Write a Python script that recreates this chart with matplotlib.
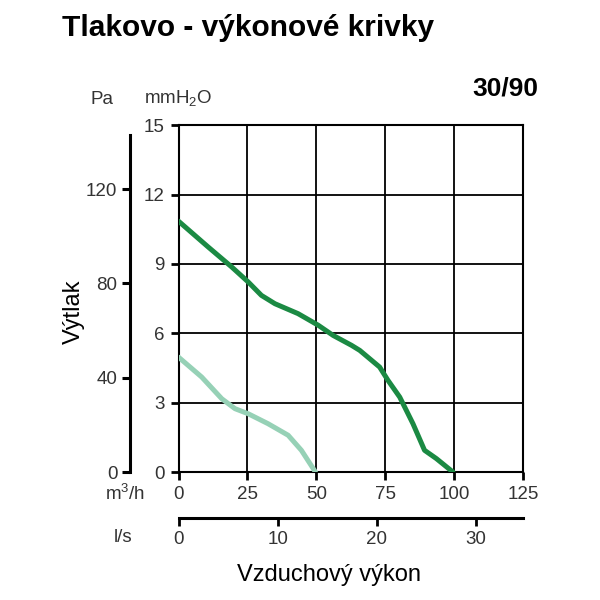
import matplotlib.pyplot as plt
import numpy as np

plt.rcParams['font.family'] = ['Liberation Sans', 'DejaVu Sans']

# pressure curves: airflow (m3/h) vs pressure (mmH2O)
flow_high = [0, 10.8, 19.3, 25.3, 30.1, 35, 43.4, 50.7, 56.1, 62.8, 65.8,
             73, 76, 80.3, 85.1, 89.3, 93.6, 99.6]
press_high = [10.85, 9.73, 8.87, 8.22, 7.64, 7.28, 6.85, 6.35, 5.91, 5.48, 5.26,
              4.54, 3.97, 3.24, 2.09, 0.94, 0.58, 0.0]
flow_low = [0, 8.4, 15.7, 20.5, 25.3, 32.5, 39.8, 44.6, 49.7]
press_low = [4.97, 4.11, 3.17, 2.74, 2.52, 2.09, 1.59, 0.94, 0.0]

x_ticks = [0, 25, 50, 75, 100, 125]
y_ticks = [0, 3, 6, 9, 12, 15]
pa_ticks = [0, 40, 80, 120]
ls_ticks = [0, 10, 20, 30]

dark = '#1b8a43'
light = '#96d1b6'
txt = '#333333'
fs = 13.5

fig = plt.figure(figsize=(6, 6), dpi=100)
ax = fig.add_axes([0.2975, 0.2133, 0.574, 0.578])

ax.plot(flow_low, press_low, color=light, lw=3.6, solid_capstyle='round',
        solid_joinstyle='round', zorder=3)
ax.plot(flow_high, press_high, color=dark, lw=3.6, solid_capstyle='round',
        solid_joinstyle='round', zorder=3)

ax.set_xlim(0, 125)
ax.set_ylim(0, 15)
ax.set_xticks(x_ticks)
ax.set_yticks(y_ticks)
ax.grid(True, color='black', lw=1.3)
for s in ax.spines.values():
    s.set_linewidth(1.5)
ax.tick_params(direction='out', length=6, width=2, labelsize=fs,
               labelcolor=txt, pad=4)

# Pa axis on the left
pa = ax.twinx()
pa.yaxis.set_ticks_position('left')
pa.yaxis.set_label_position('left')
pa.spines['left'].set_position(('outward', 35))
pa.spines['left'].set_linewidth(2.2)
for k in ['right', 'top', 'bottom']:
    pa.spines[k].set_visible(False)
pa.set_ylim(0, 15 * 9.80665)
pa.spines['left'].set_bounds(0, 143)
pa.set_yticks(pa_ticks)
pa.tick_params(direction='out', length=6, width=2.2, labelsize=fs,
               labelcolor=txt, pad=3)

# l/s axis below
ls = ax.secondary_xaxis(-0.1326, functions=(lambda v: v / 3.6, lambda v: v * 3.6))
ls.set_xticks(ls_ticks)
ls.spines['bottom'].set_linewidth(2.2)
ls.tick_params(direction='out', length=6, width=2, labelsize=fs,
               labelcolor=txt, pad=3)

fig.text(0.103, 0.953, 'Tlakovo - výkonové krivky', fontsize=21.5,
         fontweight='bold', va='center', ha='left', color='black')
fig.text(0.898, 0.853, '30/90', fontsize=19, fontweight='bold',
         ha='right', va='center', color='black')
fig.text(0.17, 0.835, 'Pa', fontsize=fs, ha='center', va='center', color=txt)
fig.text(0.297, 0.835, r'mmH$_\mathregular{2}$O', fontsize=fs, ha='center',
         va='center', color=txt)
fig.text(0.208, 0.178, r'm$^\mathregular{3}$/h', fontsize=fs, ha='center',
         va='center', color=txt)
fig.text(0.205, 0.105, 'l/s', fontsize=fs, ha='center', va='center', color=txt)
fig.text(0.123, 0.48, 'Výtlak', fontsize=17, rotation=90, ha='center',
         va='center', color='black')
fig.text(0.549, 0.042, 'Vzduchový výkon', fontsize=17, ha='center',
         va='center', color='black')

plt.savefig('out.png', dpi=100)
